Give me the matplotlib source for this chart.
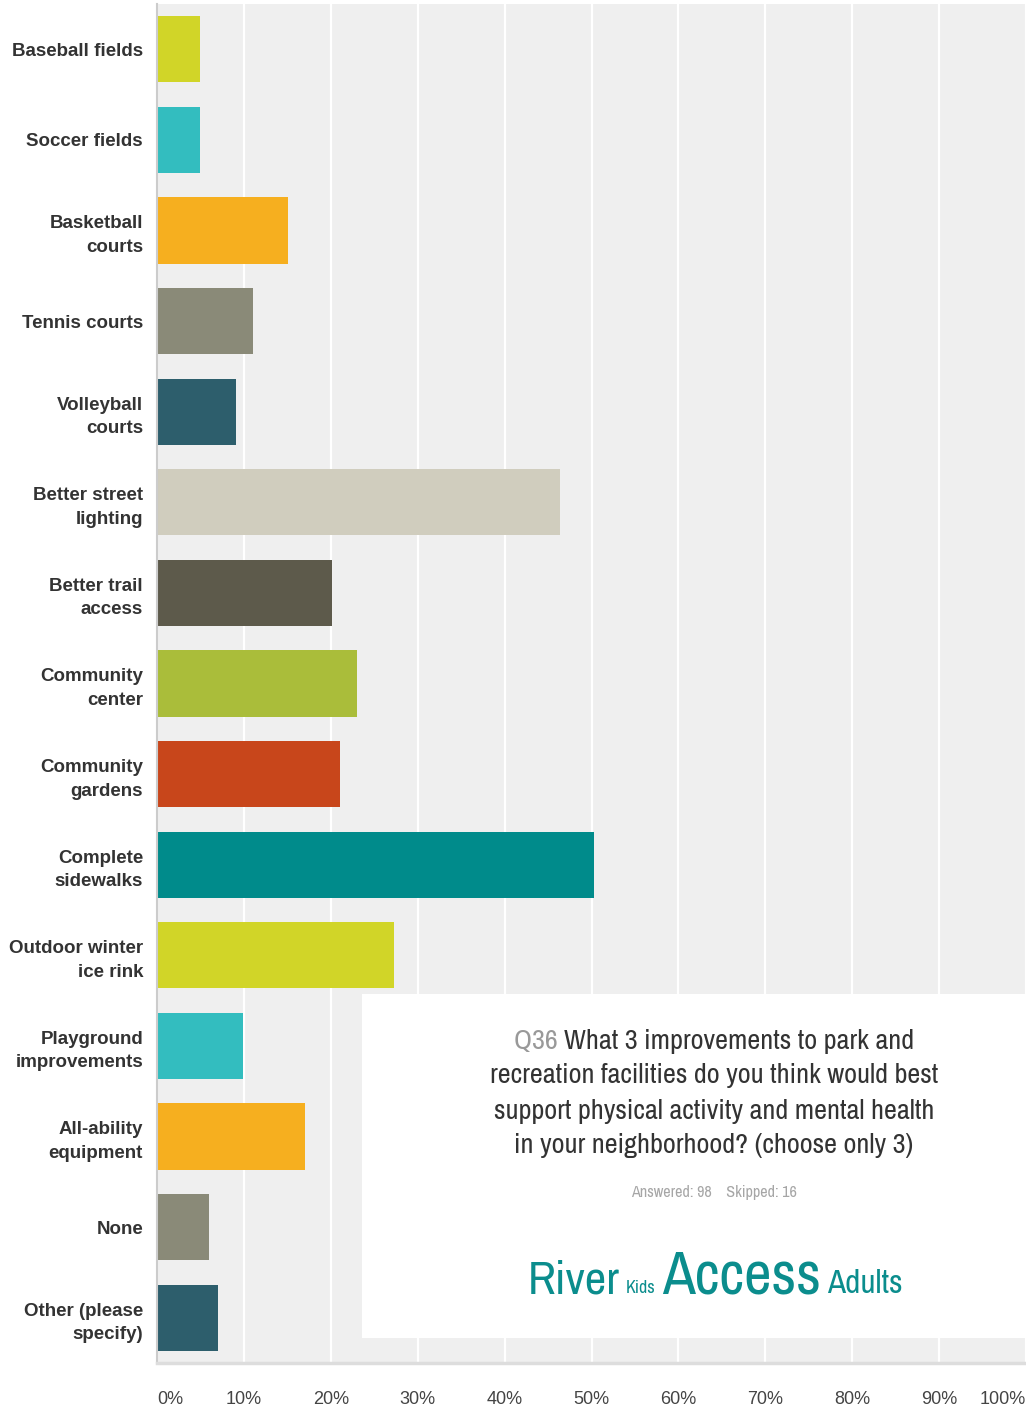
import matplotlib
matplotlib.use("Agg")
import matplotlib.pyplot as plt
from matplotlib.patches import Rectangle
from matplotlib import font_manager

categories = ["Baseball fields", "Soccer fields", "Basketball\ncourts", "Tennis courts",
              "Volleyball\ncourts", "Better street\nlighting", "Better trail\naccess",
              "Community\ncenter", "Community\ngardens", "Complete\nsidewalks",
              "Outdoor winter\nice rink", "Playground\nimprovements", "All-ability\nequipment",
              "None", "Other (please\nspecify)"]
values = [5.0, 5.0, 15.1, 11.0, 9.1, 46.4, 20.1, 23.0, 21.1, 50.3, 27.3, 9.9, 17.0, 6.0, 7.0]
colors = ["#d1d528", "#33bdbf", "#f6af1f", "#8a8a78", "#2d5e6c", "#d0cdbe", "#5d5a4b",
          "#aabd3a", "#c8461b", "#008b8b", "#d1d528", "#33bdbf", "#f6af1f", "#8a8a78", "#2d5e6c"]
xticks = list(range(0, 101, 10))
xtick_labels = [f"{t}%" for t in xticks]

title_q = "Q36"
title_lines = ["What 3 improvements to park and",
               "recreation facilities do you think would best",
               "support physical activity and mental health",
               "in your neighborhood? (choose only 3)"]
answered_text = "Answered: 98    Skipped: 16"
logo_words = [("River", 0.78), ("Kids", 0.30), ("Access", 1.0), ("Adults", 0.55)]

names = {f.name for f in font_manager.fontManager.ttflist}
narrow = "Liberation Sans"
for cand in ["Liberation Sans Narrow", "Arimo Narrow", "Archivo Narrow", "PT Sans Narrow",
             "Roboto Condensed", "Open Sans Condensed", "Pragati Narrow"]:
    if cand in names:
        narrow = cand
        break
plt.rcParams["font.family"] = ["Liberation Sans", "DejaVu Sans"]

W, H = 1026, 1407
fig = plt.figure(figsize=(W / 100, H / 100), dpi=100)
ax = fig.add_axes([157 / W, 44 / H, (W - 157) / W, (1403 - 44) / H])
ax.set_facecolor("#efefef")

y = list(range(len(categories)))
ax.barh(y, values, height=0.73, color=colors, zorder=2)
ax.set_ylim(len(categories) - 0.5, -0.5)
ax.set_xlim(0, 100)
ax.set_yticks(y)
ax.set_yticklabels(categories, fontsize=13.5, fontweight="bold", color="#333333", linespacing=1.5)
ax.set_xticks(xticks)
ax.set_xticklabels(xtick_labels, fontsize=13, color="#444444")
labs = ax.get_xticklabels()
labs[0].set_ha("left")
labs[-1].set_ha("right")
ax.tick_params(axis="y", length=0, pad=10)
ax.tick_params(axis="x", length=0, pad=20)
ax.grid(axis="x", color="white", linewidth=1.6, zorder=1)
ax.set_axisbelow(True)
for s in ["top", "right"]:
    ax.spines[s].set_visible(False)
ax.spines["left"].set_color("#cccccc")
ax.spines["left"].set_linewidth(1.5)
ax.spines["bottom"].set_color("#dddddd")
ax.spines["bottom"].set_linewidth(2.5)

# white info box over the plot
fig.add_artist(Rectangle((362 / W, 1 - 1338 / H), (W - 362) / W, (1338 - 994) / H,
                         transform=fig.transFigure, facecolor="white", edgecolor="none", zorder=5))

renderer = fig.canvas.get_renderer()


def fit_size(text, target_px, weight="normal"):
    # font size that makes the string about target_px wide
    t = fig.text(0, 0, text, fontsize=20, family=narrow, fontweight=weight)
    w = t.get_window_extent(renderer).width
    t.remove()
    return 20 * target_px / w


tw = 600
fs_title = fit_size(title_lines[1], 447, tw)
t_q = fig.text(0, 0, title_q + " ", fontsize=fs_title, family=narrow, fontweight=tw,
               color="#999999", zorder=6)
t_1 = fig.text(0, 0, title_lines[0], fontsize=fs_title, family=narrow, fontweight=tw,
               color="#333333", zorder=6)
wq = t_q.get_window_extent(renderer).width
w1 = t_1.get_window_extent(renderer).width
x0 = 714 - (wq + w1) / 2
yb = 1 - 1041 / H
t_q.set_position((x0 / W, yb))
t_q.set_va("center")
t_1.set_position(((x0 + wq) / W, yb))
t_1.set_va("center")
for i, line in enumerate(title_lines[1:]):
    fig.text(714 / W, 1 - (1076 + 35 * i) / H, line, fontsize=fs_title, family=narrow,
             fontweight=tw, color="#333333", ha="center", va="center", zorder=6)

fs_ans = fit_size(answered_text, 166, "bold")
fig.text(714 / W, 1 - 1192 / H, answered_text, fontsize=fs_ans, family=narrow, fontweight="bold",
         color="#a6a6a6", ha="center", va="center", zorder=6)

# logo words on a common baseline
fs_logo = fit_size("Access", 159)
logo = [fig.text(0, 0, w, fontsize=fs_logo * s, family=narrow, color="#0b8d8d", va="baseline", zorder=6)
        for w, s in logo_words]
widths = [t.get_window_extent(renderer).width for t in logo]
gap = 6
total = sum(widths) + gap * (len(widths) - 1)
xp = 715 - total / 2
for t, w in zip(logo, widths):
    t.set_position((xp / W, 1 - 1293 / H))
    xp += w + gap

fig.savefig("out.png", dpi=100)
